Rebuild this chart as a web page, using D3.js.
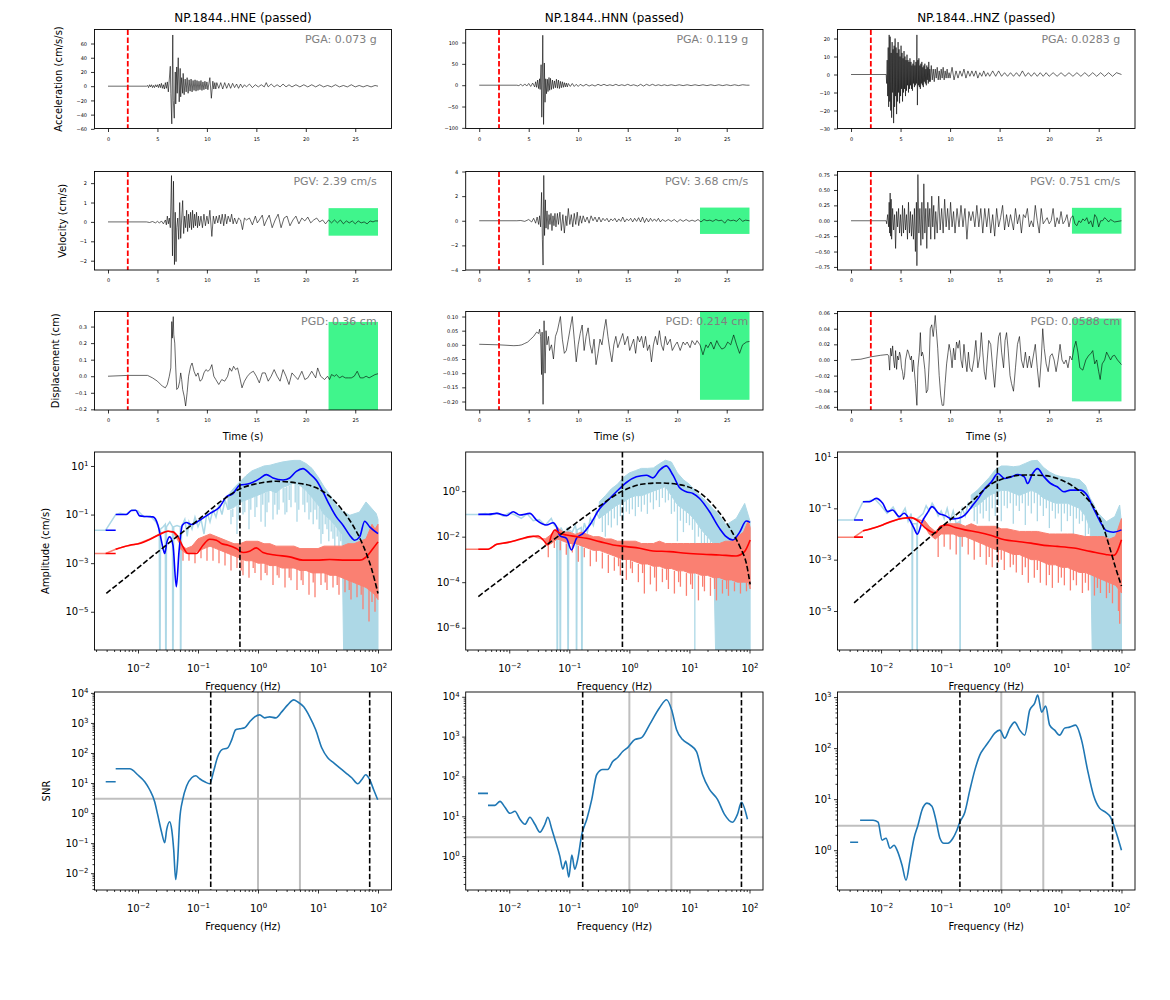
<!DOCTYPE html>
<html><head><meta charset="utf-8">
<script src="https://cdn.jsdelivr.net/npm/d3@7"></script>
<style>body{margin:0;background:#fff}svg{display:block}text{font-family:"DejaVu Sans",sans-serif}</style>
</head><body><svg id="c" width="1170" height="1000"></svg>
<script>
// ---------------- DATA ----------------
const titles = ["NP.1844..HNE (passed)","NP.1844..HNN (passed)","NP.1844..HNZ (passed)"];
const pgaText = ["PGA: 0.073 g","PGA: 0.119 g","PGA: 0.0283 g"];
const pgvText = ["PGV: 2.39 cm/s","PGV: 3.68 cm/s","PGV: 0.751 cm/s"];
const pgdText = ["PGD: 0.36 cm","PGD: 0.214 cm","PGD: 0.0588 cm"];
const pickTime = 2.0;
const noiseWindow = [22.3, 27.3];
const velBoxHalf = [0.71, 1.07, 0.21];
const dispBoxHalf = [0.328, 0.194, 0.053];
const timeTicks = [0,5,10,15,20,25];
const cornerFreq = [0.5, 0.766, 0.86];
const snrBandFreqs = [[0.163,72.7],[0.167,73.5],[0.205,71]];
const snrThreshold = 3;
const snrGrayFreqs = [1,5];

// waveforms [time s, value]
const accHNE = [[0,0],[3.9,0],[4.0,1],[4.1,-2],[4.2,2],[4.3,-1],[4.4,2],[4.5,-2],[4.6,1],[4.7,-2],[4.8,2],[4.9,-1],[5.0,2],[5.1,-2],[5.2,3],[5.3,-2],[5.4,4],[5.5,-3],[5.6,2],[5.7,-4],[5.8,5],[5.9,-3],[6.0,6],[6.1,-8],[6.2,10],[6.3,28],[6.35,-10],[6.45,-53],[6.55,72],[6.6,-20],[6.7,-45],[6.8,20],[6.85,-25],[6.95,27],[7.0,-10],[7.1,40],[7.2,-22],[7.3,25],[7.35,-15],[7.45,12],[7.55,-10],[7.6,18],[7.7,-12],[7.8,10],[7.9,-8],[8.0,12],[8.1,-10],[8.2,9],[8.3,-7],[8.4,10],[8.5,-8],[8.6,8],[8.7,-6],[8.8,9],[8.9,-7],[9.0,8],[9.1,-6],[9.2,7],[9.3,-5],[9.4,8],[9.5,-6],[9.6,6],[9.7,-5],[9.8,7],[9.9,-4],[10.0,6],[10.1,-5],[10.3,12],[10.45,-17],[10.6,7],[10.7,-4],[10.8,5],[10.9,-4],[11.0,5],[11.2,-3],[11.4,5],[11.6,-4],[11.8,5],[12.0,-3],[12.2,4],[12.4,-3],[12.6,4],[12.8,-2],[13.0,3],[13.2,-3],[13.4,3],[13.6,-2],[13.8,2],[14.0,-1],[14.3,3],[14.6,-2],[14.9,2],[15.2,-1],[15.5,2],[15.8,-1],[16.0,5],[16.2,-1],[16.5,3],[16.8,-1],[17.1,2],[17.4,-1],[17.7,3],[18.0,-1],[18.3,2],[18.6,-1],[19.0,2],[19.4,-1],[19.8,2],[20.2,-1],[20.6,2],[21.0,-1],[21.4,2],[21.8,-1],[22.2,1],[22.6,-1],[23.0,2],[23.4,-1],[23.8,1],[24.2,-1],[24.6,2],[25.0,-1],[25.4,1],[25.8,-1],[26.2,1],[26.6,-1],[27.0,1],[27.3,0]];
const velHNE = [[0,0],[3.9,0],[4.2,-0.03],[4.5,0.02],[4.8,-0.05],[5.0,0.03],[5.2,-0.06],[5.4,0.05],[5.6,-0.1],[5.8,0.1],[5.9,-0.15],[6.0,0.3],[6.1,-0.1],[6.2,0.2],[6.3,-0.3],[6.42,2.39],[6.52,-1.75],[6.62,2.1],[6.72,-2.2],[6.8,0.5],[6.88,-2.05],[6.95,-0.3],[7.05,0.2],[7.15,-0.9],[7.25,1.0],[7.35,-0.85],[7.45,0.2],[7.55,1.1],[7.65,-0.6],[7.75,0.3],[7.85,-0.3],[7.95,0.6],[8.05,-0.5],[8.15,0.4],[8.25,-0.3],[8.35,0.5],[8.45,-0.4],[8.55,0.6],[8.65,-0.3],[8.75,0.4],[8.85,-0.2],[8.95,0.5],[9.05,-0.3],[9.15,0.3],[9.25,-0.2],[9.4,0.3],[9.55,-0.3],[9.7,0.4],[9.85,-0.2],[10.0,0.3],[10.15,-0.1],[10.3,0.6],[10.5,-0.75],[10.65,0.3],[10.8,-0.1],[10.95,0.3],[11.1,-0.05],[11.25,0.35],[11.4,-0.1],[11.55,0.4],[11.7,-0.2],[11.85,0.4],[12.0,-0.1],[12.15,0.3],[12.35,0.0],[12.5,0.4],[12.65,-0.1],[12.8,0.2],[13.0,-0.1],[13.2,0.2],[13.4,0.1],[13.6,-0.4],[13.8,0.2],[14.0,0.1],[14.3,0.2],[14.6,-0.15],[14.9,0.3],[15.1,-0.05],[15.3,0.1],[15.6,0.35],[15.8,-0.2],[16.0,0.05],[16.3,0.35],[16.6,-0.3],[16.9,0.1],[17.2,0.4],[17.5,-0.3],[17.8,0.2],[18.1,0.3],[18.4,-0.2],[18.7,0.1],[19.0,0.3],[19.3,-0.1],[19.6,0.2],[19.9,0.05],[20.2,0.25],[20.5,-0.05],[20.8,0.1],[21.1,0.2],[21.4,0.0],[21.7,0.1],[22.0,-0.1],[22.3,0.1],[22.6,-0.05],[22.9,0.1],[23.2,-0.05],[23.5,0.1],[23.8,-0.1],[24.1,0.05],[24.4,-0.05],[24.7,0.05],[25.0,-0.1],[25.3,0.05],[25.6,-0.05],[25.9,0.0],[26.2,-0.1],[26.5,0.05],[26.8,0.0],[27.0,0.05],[27.3,0.05]];
const dispHNE = [[0,0],[2,0.005],[4,0.005],[4.5,-0.01],[5.0,-0.03],[5.5,-0.06],[5.8,-0.07],[6.0,-0.05],[6.2,0.0],[6.35,0.05],[6.45,0.33],[6.5,0.23],[6.6,0.36],[6.65,0.25],[6.75,0.2],[6.85,0.05],[6.95,-0.08],[7.1,-0.07],[7.25,-0.03],[7.35,0.02],[7.45,-0.02],[7.55,-0.08],[7.7,-0.12],[7.85,-0.18],[8.0,-0.1],[8.15,0.0],[8.35,0.06],[8.5,0.08],[8.7,0.03],[8.9,0.0],[9.1,0.02],[9.3,-0.03],[9.5,-0.02],[9.7,0.02],[9.9,0.04],[10.1,0.03],[10.3,0.04],[10.5,0.07],[10.7,0.0],[10.9,-0.02],[11.2,-0.05],[11.5,-0.02],[11.8,-0.03],[12.1,0.0],[12.3,0.05],[12.5,0.03],[12.7,0.06],[12.9,0.04],[13.1,0.05],[13.3,0.0],[13.55,-0.07],[13.8,-0.03],[14.1,0.0],[14.4,0.02],[14.7,0.03],[15.0,0.0],[15.3,-0.04],[15.6,0.02],[15.9,0.02],[16.2,-0.03],[16.5,0.0],[16.8,0.04],[17.1,0.0],[17.4,-0.03],[17.7,0.04],[18.0,0.0],[18.3,-0.05],[18.6,0.02],[18.9,0.0],[19.2,-0.02],[19.6,0.03],[19.9,-0.02],[20.2,-0.01],[20.6,0.03],[21.0,-0.01],[21.2,0.05],[21.5,0.0],[21.9,-0.02],[22.2,0.0],[22.4,-0.02],[22.6,0.01],[22.9,0.0],[23.1,0.01],[23.4,-0.01],[23.7,0.0],[24.0,-0.01],[24.3,-0.01],[24.6,-0.01],[24.9,0.0],[25.2,0.03],[25.5,-0.01],[25.8,-0.01],[26.1,0.0],[26.4,-0.01],[26.7,0.0],[27.0,0.01],[27.3,0.015]];
const accHNN = [[0,0],[3.8,0],[4.0,-1],[4.2,2],[4.4,-2],[4.6,3],[4.8,-2],[5.0,4],[5.2,-3],[5.4,5],[5.6,-4],[5.7,8],[5.8,-5],[5.9,12],[6.0,-8],[6.1,15],[6.15,-10],[6.25,48],[6.32,-75],[6.42,117],[6.5,-92],[6.58,52],[6.65,-40],[6.72,15],[6.8,-20],[6.88,14],[6.95,-15],[7.05,18],[7.12,-12],[7.2,16],[7.3,-10],[7.4,12],[7.5,-8],[7.6,10],[7.7,-6],[7.8,14],[7.9,-7],[8.0,12],[8.1,-8],[8.2,9],[8.3,-6],[8.4,8],[8.5,-5],[8.6,6],[8.7,-4],[8.8,5],[8.9,-4],[9.0,4],[9.2,-3],[9.4,4],[9.6,-3],[9.8,2],[10.0,-3],[10.2,2],[10.5,-2],[10.8,2],[11.1,-2],[11.4,1],[11.7,-2],[12.0,2],[12.3,-1],[12.6,2],[12.9,-1],[13.2,1],[13.5,-1],[13.8,2],[14.1,-1],[14.4,1],[14.7,-1],[15.0,2],[15.3,-1],[15.6,1],[16.0,-2],[16.3,2],[16.6,-2],[16.9,2],[17.2,-1],[17.5,2],[17.8,-1],[18.1,1],[18.4,-1],[18.7,1],[19.0,-1],[19.4,1],[19.8,-1],[20.2,1],[20.6,-1],[21.0,1],[21.4,-1],[21.8,1],[22.2,-1],[22.6,1],[23.0,-1],[23.4,1],[23.8,-1],[24.2,1],[24.6,-1],[25.0,1],[25.4,-1],[25.8,1],[26.2,-1],[26.6,1],[27.0,0],[27.3,0]];
const velHNN = [[0,0],[3.8,0],[4.2,0.02],[4.6,-0.05],[5.0,0.1],[5.3,-0.1],[5.5,0.2],[5.7,-0.2],[5.85,0.3],[6.0,-0.3],[6.1,0.4],[6.2,-0.5],[6.3,2.3],[6.38,-1.5],[6.45,-3.6],[6.52,3.68],[6.6,-1.2],[6.68,1.7],[6.75,-0.6],[6.85,0.8],[6.95,-0.7],[7.05,0.5],[7.15,-0.3],[7.25,0.6],[7.35,-0.8],[7.45,0.4],[7.55,-0.4],[7.65,0.6],[7.75,-0.5],[7.9,0.6],[8.0,-0.3],[8.15,0.7],[8.3,-0.8],[8.45,0.5],[8.6,-1.0],[8.75,0.4],[8.85,-0.4],[9.0,1.0],[9.15,-0.3],[9.3,0.5],[9.45,-0.5],[9.6,0.6],[9.75,-0.3],[9.9,0.7],[10.05,-0.4],[10.2,0.4],[10.35,-0.2],[10.5,0.4],[10.7,-0.1],[10.9,0.3],[11.1,-0.2],[11.3,0.4],[11.5,0.0],[11.7,0.3],[11.9,-0.1],[12.1,0.3],[12.3,-0.1],[12.5,0.2],[12.7,0.0],[12.9,0.2],[13.1,-0.1],[13.3,0.15],[13.5,0.0],[13.7,0.2],[13.9,-0.1],[14.1,0.15],[14.3,-0.05],[14.5,0.3],[14.7,-0.1],[14.9,0.15],[15.1,0.0],[15.3,0.2],[15.5,-0.1],[15.7,0.2],[15.9,-0.05],[16.1,0.25],[16.3,-0.1],[16.5,0.3],[16.7,-0.15],[16.9,0.2],[17.1,-0.1],[17.3,0.2],[17.5,-0.05],[17.7,0.15],[17.9,-0.05],[18.1,0.2],[18.3,-0.1],[18.5,0.1],[18.8,-0.05],[19.1,0.1],[19.4,-0.05],[19.7,0.1],[20.0,-0.1],[20.3,0.1],[20.6,-0.05],[20.9,0.1],[21.2,-0.05],[21.5,0.05],[21.8,-0.05],[22.1,0.1],[22.4,-0.1],[22.7,0.1],[23.0,0.0],[23.3,0.05],[23.6,-0.05],[23.9,0.1],[24.2,0.0],[24.5,0.05],[24.8,-0.2],[25.1,0.1],[25.4,0.0],[25.7,0.05],[26.0,-0.05],[26.3,0.2],[26.6,-0.05],[26.9,0.05],[27.3,0.0]];
const dispHNN = [[0,0.002],[2,0.0],[3.5,-0.003],[4.0,-0.002],[4.3,0.0],[4.6,0.005],[4.9,0.01],[5.2,0.02],[5.5,0.03],[5.8,0.045],[6.0,0.04],[6.1,0.055],[6.2,0.03],[6.3,-0.105],[6.35,0.045],[6.45,-0.21],[6.55,0.085],[6.65,-0.1],[6.75,0.05],[6.85,0.0],[7.0,0.03],[7.1,-0.02],[7.3,0.0],[7.5,-0.05],[7.7,0.03],[7.9,0.05],[8.2,0.1],[8.4,0.02],[8.6,-0.03],[8.8,-0.02],[9.0,0.02],[9.2,0.06],[9.4,0.1],[9.6,0.02],[9.8,-0.06],[10.0,0.0],[10.2,0.04],[10.4,0.07],[10.6,-0.02],[10.8,0.03],[11.0,0.06],[11.2,0.0],[11.4,-0.03],[11.6,0.02],[11.8,-0.07],[12.0,-0.03],[12.2,0.02],[12.4,0.0],[12.6,0.05],[12.8,0.09],[13.0,0.03],[13.2,-0.02],[13.4,-0.06],[13.6,0.0],[13.8,0.03],[14.0,-0.01],[14.3,0.02],[14.5,0.04],[14.7,0.0],[15.0,0.03],[15.2,-0.02],[15.4,0.0],[15.6,0.02],[15.8,-0.03],[16.0,0.03],[16.2,0.01],[16.4,0.03],[16.6,-0.01],[16.8,0.03],[17.0,-0.02],[17.2,0.0],[17.4,-0.06],[17.6,0.0],[17.8,0.03],[18.0,0.0],[18.2,0.05],[18.4,0.0],[18.6,-0.02],[18.8,0.03],[19.0,0.0],[19.3,0.02],[19.5,-0.02],[19.8,0.0],[20.0,0.01],[20.3,-0.02],[20.6,0.01],[20.8,0.0],[21.0,0.01],[21.3,-0.01],[21.5,0.015],[21.8,0.0],[22.0,0.015],[22.3,0.0],[22.6,-0.035],[22.9,0.0],[23.1,-0.01],[23.4,0.01],[23.7,-0.015],[24.0,0.015],[24.2,0.0],[24.5,-0.015],[24.8,-0.01],[25.1,0.01],[25.4,0.0],[25.7,0.035],[26.0,0.0],[26.3,-0.03],[26.6,0.0],[27.0,0.01],[27.3,0.012]];
const accHNZ = [[0,0],[3.55,0],[3.6,-5],[3.65,8],[3.7,-12],[3.75,15],[3.8,-18],[3.85,22],[3.9,-15],[3.95,21],[4.0,-20],[4.05,12],[4.1,-24],[4.15,18],[4.2,-10],[4.25,14],[4.3,-27],[4.35,16],[4.4,-18],[4.45,20],[4.5,-12],[4.55,15],[4.6,-22],[4.65,12],[4.7,-15],[4.75,18],[4.8,-10],[4.85,14],[4.9,-16],[4.95,10],[5.0,-12],[5.05,16],[5.1,-8],[5.15,12],[5.2,-15],[5.25,9],[5.3,-10],[5.35,13],[5.4,-8],[5.45,10],[5.5,-12],[5.55,8],[5.6,-9],[5.65,11],[5.7,-6],[5.75,8],[5.8,-10],[5.85,7],[5.9,-8],[5.95,9],[6.0,-6],[6.05,7],[6.1,-8],[6.15,5],[6.2,-9],[6.25,6],[6.3,-5],[6.35,8],[6.4,-7],[6.45,5],[6.5,-6],[6.55,7],[6.6,-5],[6.65,22],[6.7,-17],[6.75,8],[6.8,-6],[6.85,9],[6.9,-7],[6.95,5],[7.0,-8],[7.05,6],[7.1,-5],[7.15,7],[7.2,-6],[7.25,4],[7.3,-7],[7.35,5],[7.4,-4],[7.45,6],[7.5,-5],[7.55,3],[7.6,-6],[7.65,5],[7.7,-3],[7.75,4],[7.8,-5],[7.85,7],[7.9,-4],[7.95,3],[8.0,-4],[8.1,5],[8.2,-3],[8.3,3],[8.4,-4],[8.5,3],[8.6,-2],[8.7,4],[8.8,-3],[8.9,2],[9.0,-3],[9.1,3],[9.2,-2],[9.3,4],[9.4,-3],[9.5,2],[9.6,-2],[9.7,3],[9.8,-2],[9.9,1],[10.0,-2],[10.2,4],[10.4,-3],[10.6,2],[10.8,-2],[11.0,2],[11.2,-1],[11.4,3],[11.6,-2],[11.8,2],[12.0,-1],[12.2,2],[12.4,-1],[12.6,2],[12.8,-2],[13.0,1],[13.2,-1],[13.4,2],[13.6,-1],[13.8,1],[14.0,-1],[14.3,2],[14.6,-1],[14.9,2],[15.2,-1],[15.5,1],[15.8,-1],[16.1,1],[16.4,-1],[16.7,1],[17.0,-1],[17.3,2],[17.6,-1],[17.9,1],[18.2,-1],[18.5,1],[18.8,-1],[19.1,1],[19.4,-1],[19.7,1],[20.0,-1],[20.4,1],[20.8,-1],[21.2,1],[21.6,-1],[22.0,1],[22.4,-1],[22.8,1],[23.2,-1],[23.6,1],[24.0,-1],[24.4,1],[24.8,-1],[25.2,1],[25.6,-1],[26.0,1],[26.4,-1],[26.8,1],[27.3,0]];
const velHNZ = [[0,0],[3.55,0],[3.6,-0.05],[3.7,0.1],[3.8,-0.1],[3.85,0.3],[3.9,-0.2],[3.95,0.45],[4.0,-0.25],[4.05,0.35],[4.1,-0.3],[4.2,0.2],[4.3,-0.15],[4.4,0.1],[4.5,-0.45],[4.6,0.15],[4.7,-0.1],[4.8,0.2],[4.9,-0.2],[5.0,0.1],[5.1,-0.25],[5.2,0.25],[5.3,-0.2],[5.4,0.2],[5.5,-0.15],[5.6,0.1],[5.7,-0.3],[5.8,0.3],[5.9,-0.2],[6.0,0.15],[6.1,-0.25],[6.2,0.1],[6.3,-0.3],[6.4,0.2],[6.5,-0.5],[6.6,0.3],[6.65,-0.73],[6.75,0.75],[6.85,-0.2],[6.95,0.2],[7.05,-0.4],[7.15,0.3],[7.25,-0.3],[7.35,0.6],[7.45,-0.2],[7.55,0.2],[7.65,-0.45],[7.75,0.3],[7.85,-0.1],[7.95,0.2],[8.05,-0.3],[8.15,0.4],[8.25,-0.1],[8.35,0.25],[8.45,-0.3],[8.55,0.15],[8.7,-0.2],[8.85,0.4],[9.0,-0.15],[9.15,0.2],[9.3,-0.2],[9.45,0.35],[9.6,-0.1],[9.75,0.2],[9.9,-0.15],[10.05,0.3],[10.2,-0.1],[10.35,0.15],[10.5,-0.2],[10.7,0.2],[10.9,-0.1],[11.1,0.25],[11.3,-0.1],[11.5,0.2],[11.7,-0.3],[11.9,0.15],[12.1,0.0],[12.3,0.15],[12.5,-0.1],[12.7,0.25],[12.9,-0.1],[13.1,0.2],[13.3,-0.2],[13.5,0.2],[13.7,-0.1],[13.9,0.2],[14.1,-0.2],[14.3,0.1],[14.5,-0.25],[14.7,0.2],[14.9,-0.1],[15.1,0.05],[15.3,0.25],[15.5,-0.15],[15.7,0.1],[15.9,-0.1],[16.1,0.1],[16.4,-0.15],[16.6,0.2],[16.8,-0.05],[17.0,0.1],[17.2,-0.2],[17.4,0.1],[17.6,0.05],[17.8,0.2],[18.0,-0.1],[18.2,0.0],[18.4,-0.1],[18.6,0.25],[18.8,0.0],[19.0,-0.2],[19.2,0.2],[19.4,-0.05],[19.6,0.0],[19.8,0.05],[20.0,-0.05],[20.2,0.0],[20.4,0.2],[20.6,-0.1],[20.8,0.05],[21.0,-0.05],[21.2,0.15],[21.4,-0.05],[21.6,0.0],[21.8,0.1],[22.0,-0.1],[22.2,0.05],[22.4,0.08],[22.6,-0.05],[22.8,-0.08],[23.0,0.0],[23.2,-0.03],[23.4,0.03],[23.6,0.0],[23.8,0.05],[24.0,-0.05],[24.2,0.0],[24.4,-0.1],[24.6,0.1],[24.8,0.05],[25.0,-0.1],[25.2,0.0],[25.4,0.0],[25.6,0.05],[25.8,0.02],[26.0,-0.02],[26.2,0.02],[26.4,0.0],[26.6,-0.02],[27.3,0.0]];
const dispHNZ = [[0,0.0],[1,0.001],[2,0.004],[3,0.006],[3.7,0.007],[3.8,0.005],[3.9,-0.013],[4.0,0.015],[4.1,0.005],[4.2,0.018],[4.3,0.0],[4.4,-0.01],[4.5,0.012],[4.6,-0.012],[4.7,0.005],[4.8,0.0],[4.9,0.01],[5.0,0.005],[5.1,-0.01],[5.2,-0.015],[5.3,-0.025],[5.4,-0.02],[5.5,0.0],[5.7,0.013],[5.8,0.01],[6.0,0.0],[6.1,0.005],[6.2,-0.015],[6.3,0.0],[6.5,-0.03],[6.65,-0.058],[6.75,-0.01],[6.9,0.01],[7.0,0.035],[7.1,0.005],[7.2,0.01],[7.3,0.005],[7.45,-0.012],[7.6,-0.042],[7.75,-0.038],[7.9,0.0],[8.0,0.04],[8.15,0.045],[8.3,0.03],[8.5,0.057],[8.6,0.04],[8.75,0.015],[8.9,-0.02],[9.05,-0.045],[9.2,-0.058],[9.35,-0.058],[9.5,-0.03],[9.65,-0.005],[9.8,0.01],[9.9,0.02],[10.05,0.01],[10.2,-0.01],[10.35,0.015],[10.5,0.0],[10.65,0.023],[10.8,0.015],[10.95,0.025],[11.1,0.0],[11.25,-0.01],[11.4,0.02],[11.55,0.0],[11.7,-0.015],[11.85,0.01],[12.0,-0.01],[12.2,-0.015],[12.4,0.0],[12.6,0.025],[12.8,-0.01],[13.0,0.005],[13.15,0.035],[13.3,0.01],[13.45,-0.015],[13.6,-0.025],[13.75,0.0],[13.9,0.025],[14.1,0.02],[14.3,-0.01],[14.5,-0.035],[14.7,0.0],[14.9,0.03],[15.05,0.035],[15.2,0.01],[15.4,-0.01],[15.55,0.025],[15.7,0.035],[15.85,0.015],[16.05,-0.02],[16.2,-0.03],[16.4,-0.04],[16.6,-0.01],[16.8,0.02],[17.0,0.03],[17.2,0.0],[17.4,-0.01],[17.6,0.01],[17.8,-0.01],[18.0,0.005],[18.2,-0.01],[18.4,0.005],[18.6,0.02],[18.8,-0.01],[19.0,-0.035],[19.2,0.0],[19.35,0.04],[19.5,0.015],[19.7,-0.005],[19.9,-0.015],[20.1,0.005],[20.3,0.008],[20.5,0.0],[20.7,-0.015],[20.9,0.0],[21.1,0.02],[21.3,0.0],[21.5,-0.005],[21.7,0.0],[21.9,-0.01],[22.1,0.005],[22.3,0.0],[22.5,0.015],[22.7,0.024],[22.9,0.01],[23.1,-0.01],[23.4,-0.013],[23.7,0.0],[24.0,0.006],[24.2,0.008],[24.4,0.012],[24.6,-0.005],[24.8,0.0],[25.0,-0.015],[25.15,-0.025],[25.35,-0.005],[25.6,0.0],[25.8,0.01],[26.0,0.005],[26.2,0.0],[26.4,0.005],[26.6,0.006],[26.9,0.0],[27.3,-0.006]];

// spectra: [log10 f, log10 amplitude]; raw bands: [log10 f, log10 upper, log10 lower]; spikes: [log10 f, log10 top, log10 bottom]
const hneSigSmoothHead = [[-2.539,-1.644],[-2.372,-1.644]];
const hneSigSmooth = [[-2.372,-1.0],[-2.194,-1.0],[-2.111,-0.836],[-2.039,-0.822],[-1.972,-1.055],[-1.861,-1.082],[-1.75,-1.096],[-1.667,-1.438],[-1.594,-2.26],[-1.556,-2.603],[-1.517,-2.123],[-1.472,-1.918],[-1.417,-2.26],[-1.361,-3.97],[-1.317,-2.534],[-1.261,-1.438],[-1.194,-1.329],[-1.111,-1.411],[-0.972,-1.233],[-0.806,-0.959],[-0.639,-0.685],[-0.528,-0.274],[-0.417,-0.137],[-0.306,0.205],[-0.139,0.274],[0.028,0.479],[0.139,0.644],[0.25,0.507],[0.417,0.425],[0.528,0.507],[0.639,0.781],[0.75,0.89],[0.861,0.685],[0.972,0.411],[1.083,-0.068],[1.194,-0.616],[1.306,-1.096],[1.417,-1.438],[1.528,-1.849],[1.611,-2.055],[1.694,-1.918],[1.778,-1.274],[1.861,-1.507],[2.0,-1.781]];
const hneNoiseSmoothHead = [[-2.539,-2.603],[-2.372,-2.603]];
const hneNoiseSmooth = [[-2.372,-2.425],[-2.139,-2.26],[-1.972,-2.192],[-1.806,-2.027],[-1.639,-1.822],[-1.5,-1.685],[-1.417,-1.712],[-1.333,-1.918],[-1.25,-2.329],[-1.167,-2.603],[-1.028,-2.603],[-0.917,-2.26],[-0.806,-2.014],[-0.694,-2.055],[-0.611,-2.192],[-0.5,-2.26],[-0.361,-2.397],[-0.25,-2.562],[-0.139,-2.507],[-0.028,-2.37],[0.083,-2.562],[0.306,-2.671],[0.528,-2.74],[0.75,-2.877],[0.972,-2.877],[1.194,-2.849],[1.472,-2.877],[1.694,-2.877],[1.806,-2.74],[1.917,-2.397],[2.0,-2.123]];
const hneBrune = [[-2.528,-4.247],[-1.5,-2.2],[-1.0,-1.22],[-0.6,-0.42],[-0.306,0.05],[0.0,0.28],[0.306,0.37],[0.639,0.3],[0.972,0.1],[1.194,-0.25],[1.417,-0.85],[1.583,-1.45],[1.75,-2.26],[1.889,-3.2],[2.0,-4.25]];
const hneSigRawLine = [[-2.8,-1.644],[-2.539,-1.644],[-2.372,-1.0],[-2.3,-0.95],[-2.2,-1.0],[-2.1,-0.8],[-2.0,-0.85],[-1.9,-1.1],[-1.8,-1.05],[-1.7,-1.3],[-1.645,-1.6],[-1.635,-9],[-1.625,-1.6],[-1.58,-1.5],[-1.545,-1.4],[-1.535,-9],[-1.525,-1.5],[-1.47,-1.3],[-1.425,-1.5],[-1.42,-9],[-1.405,-1.5],[-1.35,-1.45],[-1.295,-1.5],[-1.29,-9],[-1.275,-1.5],[-1.22,-1.2],[-1.18,-1.9],[-1.15,-1.3],[-1.1,-1.6],[-1.05,-1.1],[-1.0,-1.5],[-0.95,-1.2],[-0.9,-1.8],[-0.85,-0.9],[-0.8,-1.3],[-0.75,-0.8],[-0.7,-1.1],[-0.65,-0.6],[-0.6,-1.0],[-0.55,-0.4],[-0.5,-0.8]];
const hneSigRawBand = [[-0.5,-0.2,-0.8],[-0.4,0.1,-0.7],[-0.3,0.35,-0.5],[-0.2,0.6,-0.4],[-0.1,0.8,-0.3],[0.0,0.9,-0.2],[0.1,1.0,-0.1],[0.2,1.03,0.0],[0.3,1.1,-0.1],[0.4,1.16,0.1],[0.5,1.2,0.2],[0.6,1.23,0.3],[0.7,1.23,0.2],[0.8,1.1,0.0],[0.9,0.9,-0.3],[1.0,0.55,-0.6],[1.1,0.15,-1.0],[1.2,-0.2,-1.2],[1.3,-0.6,-1.5],[1.4,-0.85,-1.8],[1.44,-0.9,-9],[1.53,-1.03,-9],[1.69,-0.9,-9],[1.8,-0.48,-9],[1.97,-0.96,-9],[2.0,-1.2,-9]];
const hneSigRawSpikes = [[-0.45,-0.8,-1.4],[-0.42,-0.75,-1.1],[-0.35,-0.6,-1.8],[-0.32,-0.55,-1.2],[-0.25,-0.45,-1.0],[-0.22,-0.4,-0.9],[-0.15,-0.35,-1.6],[-0.12,-0.3,-0.8],[-0.05,-0.25,-1.1],[-0.02,-0.2,-0.7],[0.05,-0.15,-1.3],[0.08,-0.1,-0.6],[0.12,-0.1,-1.5],[0.15,-0.05,-0.9],[0.18,0.0,-0.5],[0.25,0.0,-1.2],[0.28,-0.05,-0.6],[0.32,0.0,-1.0],[0.35,0.05,-0.8],[0.42,0.1,-0.5],[0.45,0.1,-1.0],[0.48,0.15,-0.9],[0.52,0.2,-0.4],[0.55,0.25,-0.7],[0.62,0.3,-0.5],[0.65,0.25,-1.3],[0.68,0.2,-0.8],[0.75,0.1,-0.6],[0.78,0.05,-0.9],[0.82,0.0,-0.5],[0.85,-0.1,-1.2],[0.88,-0.2,-0.9],[0.92,-0.35,-1.4],[0.95,-0.4,-0.8],[0.98,-0.5,-1.2],[1.02,-0.7,-1.6],[1.05,-0.8,-2.2],[1.08,-0.9,-1.8],[1.12,-1.05,-1.4],[1.15,-1.1,-1.6],[1.18,-1.15,-2.1],[1.22,-1.25,-1.7],[1.25,-1.35,-2.0],[1.28,-1.45,-2.5],[1.32,-1.55,-1.9],[1.35,-1.6,-2.3],[1.38,-1.7,-2.1]];
const hneNoiseRawLine = [[-2.8,-2.603],[-2.539,-2.603],[-2.372,-2.425],[-2.2,-2.3],[-2.0,-2.2],[-1.8,-2.0],[-1.6,-1.75],[-1.5,-1.68],[-1.4,-1.75],[-1.3,-2.2]];
const hneNoiseRawBand = [[-1.3,-2.2,-2.4],[-1.2,-2.4,-2.6],[-1.1,-2.3,-2.6],[-1.0,-2.0,-2.5],[-0.9,-1.9,-2.4],[-0.8,-1.8,-2.3],[-0.7,-1.9,-2.4],[-0.6,-2.0,-2.5],[-0.5,-2.1,-2.6],[-0.4,-2.2,-2.7],[-0.3,-2.2,-2.8],[-0.2,-2.1,-2.9],[-0.1,-2.1,-2.9],[0.0,-2.1,-3.0],[0.1,-2.2,-3.0],[0.2,-2.2,-3.1],[0.3,-2.3,-3.1],[0.4,-2.3,-3.2],[0.5,-2.3,-3.2],[0.6,-2.3,-3.2],[0.7,-2.4,-3.3],[0.8,-2.4,-3.3],[0.9,-2.4,-3.4],[1.0,-2.4,-3.4],[1.1,-2.3,-3.4],[1.2,-2.3,-3.5],[1.3,-2.3,-3.5],[1.4,-2.3,-3.6],[1.5,-2.2,-3.7],[1.6,-2.2,-3.8],[1.7,-2.1,-3.9],[1.8,-2.0,-4.0],[1.9,-1.4,-4.2],[1.95,-1.6,-4.3],[2.0,-1.4,-4.5]];
const hneNoiseRawSpikes = [[-1.25,-2.5,-2.9],[-1.15,-2.5,-2.9],[-1.05,-2.4,-3.0],[-0.95,-2.4,-2.8],[-0.85,-2.3,-2.9],[-0.75,-2.3,-2.9],[-0.65,-2.4,-3.0],[-0.55,-2.5,-3.1],[-0.45,-2.6,-3.3],[-0.35,-2.7,-3.2],[-0.28,-2.8,-3.3],[-0.25,-2.8,-3.5],[-0.15,-2.9,-3.6],[-0.08,-2.9,-3.2],[-0.05,-2.9,-3.4],[0.05,-3.0,-3.7],[0.12,-3.0,-3.4],[0.15,-3.0,-3.5],[0.25,-3.1,-3.9],[0.32,-3.1,-3.5],[0.35,-3.1,-3.6],[0.45,-3.2,-4.0],[0.52,-3.2,-3.6],[0.55,-3.2,-3.7],[0.65,-3.2,-4.1],[0.72,-3.3,-3.7],[0.75,-3.3,-3.9],[0.85,-3.3,-4.3],[0.92,-3.4,-3.8],[0.95,-3.4,-4.4],[1.05,-3.4,-3.9],[1.12,-3.4,-3.8],[1.15,-3.4,-4.1],[1.25,-3.5,-4.0],[1.32,-3.5,-3.9],[1.35,-3.5,-4.3],[1.45,-3.6,-4.2],[1.52,-3.7,-4.1],[1.55,-3.7,-4.5],[1.65,-3.8,-4.4],[1.72,-3.9,-4.3],[1.75,-3.9,-4.9],[1.85,-4.0,-5.4],[1.9,-4.1,-4.6],[1.95,-4.2,-5.0]];

const hnnSigSmoothHead = [];
const hnnSigSmooth = [[-2.515,-1.022],[-2.349,-1.022],[-2.211,-0.978],[-2.044,-1.08],[-1.934,-0.905],[-1.823,-1.051],[-1.657,-0.978],[-1.546,-1.27],[-1.38,-1.489],[-1.269,-1.387],[-1.213,-1.562],[-1.158,-1.956],[-1.047,-2.073],[-0.964,-2.584],[-0.881,-2.073],[-0.77,-1.854],[-0.659,-1.489],[-0.493,-0.759],[-0.327,-0.321],[-0.161,0.117],[-0.05,0.38],[0.116,0.628],[0.283,0.701],[0.393,0.584],[0.504,0.92],[0.615,1.11],[0.726,0.701],[0.837,0.146],[0.947,-0.029],[1.058,-0.102],[1.169,-0.321],[1.335,-0.905],[1.501,-1.635],[1.612,-2.0],[1.723,-2.146],[1.834,-1.81],[1.945,-1.314],[2.011,-1.372]];
const hnnNoiseSmoothHead = [];
const hnnNoiseSmooth = [[-2.515,-2.555],[-2.349,-2.555],[-2.211,-2.336],[-2.044,-2.263],[-1.823,-2.117],[-1.657,-2.0],[-1.518,-1.971],[-1.435,-2.146],[-1.352,-2.365],[-1.296,-1.927],[-1.241,-1.708],[-1.158,-1.854],[-1.047,-1.927],[-0.881,-2.0],[-0.715,-2.073],[-0.493,-2.219],[-0.271,-2.365],[-0.05,-2.438],[0.172,-2.511],[0.393,-2.628],[0.67,-2.657],[0.947,-2.73],[1.224,-2.774],[1.501,-2.803],[1.778,-2.847],[1.917,-2.657],[2.011,-2.146]];
const hnnBrune = [[-2.515,-4.63],[-1.5,-2.6],[-1.0,-1.62],[-0.5,-0.66],[-0.12,0.0],[0.2,0.3],[0.5,0.36],[0.8,0.3],[1.1,0.05],[1.3,-0.35],[1.5,-0.95],[1.7,-1.75],[1.85,-2.5],[1.95,-3.2],[2.011,-4.1]];
const hnnSigRawLine = [[-2.8,-1.022],[-2.515,-1.022],[-2.4,-0.98],[-2.3,-1.05],[-2.2,-0.95],[-2.1,-1.1],[-2.0,-0.95],[-1.9,-1.05],[-1.8,-1.2],[-1.7,-1.0],[-1.6,-1.3],[-1.5,-1.25],[-1.4,-1.5],[-1.3,-1.2],[-1.25,-1.5],[-1.21,-1.6],[-1.2,-9],[-1.19,-1.6],[-1.16,-1.8],[-1.15,-9],[-1.14,-1.6],[-1.08,-1.9],[-1.03,-1.6],[-1.02,-9],[-1.01,-1.7],[-0.95,-1.8],[-0.9,-1.5],[-0.885,-1.7],[-0.88,-9],[-0.87,-1.7],[-0.8,-1.6],[-0.79,-9],[-0.78,-1.9],[-0.75,-1.4],[-0.7,-1.8],[-0.65,-1.2],[-0.6,-1.5],[-0.55,-0.9],[-0.5,-1.2]];
const hnnSigRawBand = [[-0.5,-0.47,-1.2],[-0.4,-0.2,-1.0],[-0.3,0.1,-0.8],[-0.2,0.3,-0.6],[-0.1,0.6,-0.5],[0.0,0.8,-0.3],[0.1,0.9,-0.2],[0.2,1.0,-0.2],[0.3,1.0,-0.1],[0.4,1.02,0.0],[0.5,1.2,0.1],[0.6,1.36,0.2],[0.7,1.28,-0.2],[0.8,0.8,-0.6],[0.9,0.5,-0.8],[1.0,0.3,-1.0],[1.1,0.0,-1.3],[1.2,-0.25,-1.7],[1.3,-0.5,-2.0],[1.4,-0.8,-2.3],[1.45,-0.9,-9],[1.61,-1.49,-9],[1.78,-1.2,-9],[1.92,-0.54,-9],[2.011,-1.34,-9]];
const hnnSigRawSpikes = [[-0.45,-1.1,-1.8],[-0.4,-1.0,-2.0],[-0.35,-0.9,-1.5],[-0.3,-0.8,-1.6],[-0.25,-0.7,-1.2],[-0.2,-0.6,-1.5],[-0.15,-0.55,-1.1],[-0.1,-0.5,-1.3],[-0.05,-0.4,-0.9],[0.0,-0.3,-1.0],[0.05,-0.25,-0.8],[0.1,-0.2,-1.1],[0.15,-0.2,-0.7],[0.2,-0.2,-0.9],[0.25,-0.15,-0.6],[0.3,-0.1,-1.0],[0.35,-0.05,-0.5],[0.4,0.0,-0.8],[0.45,0.05,-0.4],[0.5,0.1,-0.7],[0.55,0.15,-0.3],[0.6,0.2,-0.5],[0.65,0.1,-0.4],[0.7,-0.2,-1.0],[0.75,-0.4,-0.9],[0.8,-0.6,-2.2],[0.85,-0.7,-1.3],[0.9,-0.8,-1.8],[0.95,-0.9,-1.4],[1.0,-1.0,-1.5],[1.05,-1.15,-1.7],[1.09,-1.25,-9],[1.15,-1.4,-2.0],[1.2,-1.7,-2.4],[1.25,-1.85,-2.3],[1.3,-2.0,-2.6],[1.35,-2.15,-2.5],[1.4,-2.3,-2.6]];
const hnnNoiseRawLine = [[-2.8,-2.555],[-2.515,-2.555],[-2.349,-2.555],[-2.2,-2.33],[-2.0,-2.25],[-1.8,-2.1],[-1.6,-1.98],[-1.45,-2.1],[-1.4,-2.1]];
const hnnNoiseRawBand = [[-1.4,-2.1,-2.4],[-1.3,-1.9,-2.3],[-1.2,-1.6,-2.1],[-1.1,-1.8,-2.2],[-1.0,-1.8,-2.3],[-0.9,-1.9,-2.3],[-0.8,-1.8,-2.4],[-0.7,-1.9,-2.5],[-0.6,-2.0,-2.6],[-0.5,-2.0,-2.6],[-0.4,-2.1,-2.7],[-0.3,-2.1,-2.8],[-0.2,-2.2,-2.9],[-0.1,-2.2,-3.0],[0.0,-2.2,-3.0],[0.1,-2.2,-3.1],[0.2,-2.3,-3.2],[0.3,-2.3,-3.2],[0.4,-2.3,-3.3],[0.5,-2.2,-3.3],[0.6,-2.3,-3.4],[0.7,-2.3,-3.4],[0.8,-2.3,-3.5],[0.9,-2.3,-3.5],[1.0,-2.3,-3.6],[1.1,-2.3,-3.6],[1.2,-2.3,-3.7],[1.3,-2.3,-3.7],[1.4,-2.3,-3.8],[1.5,-2.3,-3.8],[1.6,-2.2,-3.9],[1.7,-2.2,-3.9],[1.8,-2.0,-4.0],[1.9,-1.8,-4.0],[1.98,-1.3,-4.0],[2.011,-1.6,-4.3]];
const hnnNoiseRawSpikes = [[-1.35,-2.4,-2.9],[-1.25,-2.2,-2.5],[-1.15,-2.2,-2.6],[-1.05,-2.3,-2.8],[-0.95,-2.3,-2.7],[-0.85,-2.4,-3.1],[-0.75,-2.5,-2.9],[-0.65,-2.6,-3.3],[-0.55,-2.6,-3.1],[-0.45,-2.7,-3.4],[-0.35,-2.8,-3.6],[-0.25,-2.9,-3.5],[-0.18,-2.9,-3.3],[-0.15,-3.0,-3.7],[-0.05,-3.0,-3.9],[0.02,-3.0,-3.4],[0.05,-3.1,-3.6],[0.15,-3.2,-4.0],[0.22,-3.2,-3.6],[0.25,-3.2,-4.5],[0.35,-3.3,-4.1],[0.42,-3.3,-3.8],[0.45,-3.3,-4.4],[0.55,-3.4,-4.0],[0.62,-3.4,-3.9],[0.65,-3.4,-4.3],[0.75,-3.5,-4.5],[0.82,-3.5,-4.0],[0.85,-3.5,-4.2],[0.95,-3.6,-4.6],[1.02,-3.6,-4.1],[1.05,-3.6,-4.3],[1.15,-3.7,-4.8],[1.22,-3.7,-4.2],[1.25,-3.7,-4.4],[1.35,-3.8,-4.6],[1.42,-3.8,-4.3],[1.45,-3.8,-4.8],[1.55,-3.9,-4.5],[1.62,-3.9,-4.3],[1.65,-3.9,-4.6],[1.75,-4.0,-4.4],[1.85,-4.0,-4.5],[1.95,-4.0,-4.4]];

const hnzSigSmoothHead = [[-2.449,-1.452],[-2.301,-1.452]];
const hnzSigSmooth = [[-2.301,-0.742],[-2.192,-0.742],[-2.082,-0.613],[-1.973,-0.806],[-1.89,-1.129],[-1.808,-1.065],[-1.699,-1.323],[-1.616,-1.194],[-1.534,-1.413],[-1.452,-1.774],[-1.397,-2.006],[-1.315,-1.516],[-1.233,-1.194],[-1.151,-0.935],[-1.041,-1.194],[-0.932,-1.284],[-0.822,-1.413],[-0.712,-1.387],[-0.603,-1.258],[-0.493,-0.935],[-0.384,-0.613],[-0.274,-0.226],[-0.164,0.032],[-0.055,0.355],[0.055,0.161],[0.164,0.226],[0.274,0.316],[0.384,0.226],[0.438,-0.032],[0.521,0.355],[0.603,0.548],[0.712,0.226],[0.822,-0.032],[0.932,-0.161],[1.041,-0.355],[1.151,-0.29],[1.315,-0.29],[1.425,-0.484],[1.534,-1.0],[1.644,-1.516],[1.753,-1.877],[1.863,-1.929],[2.0,-1.839]];
const hnzNoiseSmoothHead = [[-2.449,-2.123],[-2.301,-2.123]];
const hnzNoiseSmooth = [[-2.301,-1.877],[-2.137,-1.774],[-1.973,-1.645],[-1.808,-1.49],[-1.644,-1.387],[-1.507,-1.361],[-1.37,-1.516],[-1.26,-1.774],[-1.178,-1.903],[-1.096,-1.968],[-1.014,-1.71],[-0.904,-1.645],[-0.767,-1.748],[-0.603,-1.839],[-0.384,-1.929],[-0.164,-2.058],[0.055,-2.226],[0.274,-2.29],[0.493,-2.355],[0.712,-2.445],[0.932,-2.484],[1.205,-2.548],[1.479,-2.677],[1.753,-2.806],[1.874,-2.832],[2.0,-2.226]];
const hnzBrune = [[-2.449,-4.68],[-1.5,-2.75],[-1.0,-1.74],[-0.5,-0.75],[-0.164,-0.05],[0.1,0.2],[0.4,0.3],[0.7,0.28],[1.0,0.1],[1.2,-0.15],[1.4,-0.55],[1.55,-1.0],[1.7,-1.75],[1.8,-2.5],[1.9,-3.3],[2.0,-4.03]];
const hnzSigRawLine = [[-2.8,-1.452],[-2.449,-1.452],[-2.301,-0.742],[-2.2,-0.7],[-2.1,-0.65],[-2.0,-0.9],[-1.9,-1.2],[-1.8,-0.95],[-1.7,-1.4],[-1.6,-1.0],[-1.55,-1.5],[-1.5,-1.2],[-1.485,-1.6],[-1.48,-9],[-1.475,-1.6],[-1.405,-1.6],[-1.4,-9],[-1.395,-1.4],[-1.3,-1.2],[-1.25,-0.9],[-1.2,-1.1],[-1.15,-0.8],[-1.1,-1.0],[-1.05,-1.3],[-1.0,-1.1],[-0.95,-1.4],[-0.9,-1.0],[-0.85,-1.5],[-0.8,-1.1],[-0.75,-1.6],[-0.69,-1.5],[-0.685,-9],[-0.68,-1.3],[-0.65,-1.0],[-0.6,-1.3],[-0.55,-0.8],[-0.5,-1.0]];
const hnzSigRawBand = [[-0.5,-0.48,-1.0],[-0.4,-0.3,-0.9],[-0.3,-0.05,-0.7],[-0.2,0.2,-0.5],[-0.1,0.5,-0.4],[0.0,0.65,-0.3],[0.1,0.65,-0.3],[0.2,0.62,-0.4],[0.3,0.65,-0.5],[0.4,0.75,-0.4],[0.5,0.85,-0.3],[0.6,0.87,-0.4],[0.7,0.6,-0.6],[0.8,0.42,-0.7],[0.9,0.3,-0.8],[1.0,0.23,-0.8],[1.1,0.2,-0.8],[1.2,0.16,-0.9],[1.3,0.12,-1.0],[1.4,-0.1,-1.3],[1.48,-0.61,-1.8],[1.53,-0.8,-9],[1.59,-1.13,-9],[1.75,-1.52,-9],[1.89,-1.32,-9],[1.97,-0.87,-9],[2.0,-1.6,-9]];
const hnzSigRawSpikes = [[-0.45,-0.95,-1.5],[-0.4,-0.9,-1.6],[-0.35,-0.8,-1.2],[-0.3,-0.7,-1.4],[-0.25,-0.6,-1.1],[-0.2,-0.5,-1.5],[-0.15,-0.45,-1.0],[-0.1,-0.4,-1.3],[-0.05,-0.35,-0.9],[0.0,-0.3,-1.5],[0.05,-0.3,-0.9],[0.1,-0.3,-1.0],[0.15,-0.35,-0.8],[0.2,-0.4,-1.6],[0.25,-0.45,-0.9],[0.3,-0.5,-1.1],[0.35,-0.45,-0.8],[0.4,-0.4,-1.65],[0.45,-0.35,-0.9],[0.5,-0.3,-1.2],[0.55,-0.35,-0.8],[0.6,-0.4,-1.5],[0.65,-0.5,-0.9],[0.7,-0.6,-1.3],[0.75,-0.65,-1.0],[0.8,-0.7,-1.77],[0.85,-0.75,-1.1],[0.9,-0.8,-1.4],[0.95,-0.8,-1.2],[1.0,-0.8,-1.9],[1.05,-0.8,-1.2],[1.1,-0.8,-1.5],[1.15,-0.85,-1.3],[1.2,-0.9,-2.0],[1.25,-0.95,-1.4],[1.3,-1.0,-1.6],[1.35,-1.1,-1.5],[1.4,-1.3,-2.2],[1.45,-1.5,-2.0]];
const hnzNoiseRawLine = [[-2.8,-2.123],[-2.449,-2.123],[-2.301,-1.877],[-2.1,-1.75],[-1.9,-1.58],[-1.7,-1.42],[-1.5,-1.36],[-1.3,-1.5]];
const hnzNoiseRawBand = [[-1.3,-1.4,-1.6],[-1.2,-1.7,-2.0],[-1.1,-1.9,-2.2],[-1.0,-1.7,-2.0],[-0.9,-1.6,-2.0],[-0.8,-1.6,-2.0],[-0.7,-1.6,-2.1],[-0.6,-1.7,-2.1],[-0.5,-1.6,-2.2],[-0.4,-1.7,-2.3],[-0.3,-1.7,-2.4],[-0.2,-1.7,-2.5],[-0.1,-1.7,-2.6],[0.0,-1.8,-2.6],[0.1,-1.8,-2.7],[0.2,-1.85,-2.8],[0.3,-1.9,-2.8],[0.4,-1.9,-2.9],[0.5,-1.9,-3.0],[0.6,-1.9,-3.0],[0.7,-1.95,-3.1],[0.8,-2.0,-3.2],[0.9,-2.0,-3.2],[1.0,-2.0,-3.3],[1.1,-2.0,-3.3],[1.2,-2.0,-3.4],[1.3,-2.05,-3.5],[1.4,-2.1,-3.5],[1.5,-2.1,-3.6],[1.6,-2.1,-3.7],[1.7,-2.1,-3.8],[1.8,-2.2,-3.9],[1.9,-2.1,-4.0],[1.97,-1.6,-4.2],[2.0,-1.4,-4.3]];
const hnzNoiseRawSpikes = [[-1.05,-2.0,-2.9],[-0.95,-2.0,-2.5],[-0.85,-2.0,-2.6],[-0.75,-2.0,-2.8],[-0.65,-2.1,-2.5],[-0.55,-2.1,-2.8],[-0.45,-2.2,-3.0],[-0.35,-2.3,-2.9],[-0.25,-2.4,-3.2],[-0.2,-2.5,-2.9],[-0.15,-2.5,-3.3],[-0.05,-2.6,-3.1],[0.0,-2.6,-3.0],[0.05,-2.6,-3.4],[0.15,-2.7,-3.3],[0.2,-2.8,-3.2],[0.25,-2.8,-3.5],[0.35,-2.8,-3.6],[0.4,-2.9,-3.3],[0.45,-2.9,-3.9],[0.55,-3.0,-3.7],[0.6,-3.0,-3.4],[0.65,-3.0,-3.9],[0.75,-3.1,-4.0],[0.8,-3.2,-3.6],[0.85,-3.2,-4.1],[0.95,-3.2,-3.9],[1.0,-3.3,-3.7],[1.05,-3.3,-4.0],[1.15,-3.3,-4.2],[1.2,-3.4,-3.8],[1.25,-3.4,-4.0],[1.35,-3.5,-4.3],[1.4,-3.5,-3.9],[1.45,-3.5,-4.2],[1.55,-3.6,-4.4],[1.6,-3.7,-4.1],[1.65,-3.7,-4.3],[1.75,-3.8,-4.5],[1.8,-3.9,-4.3],[1.85,-3.9,-4.7],[1.95,-4.0,-5.0],[1.97,-4.2,-5.5]];

// SNR [log10 f, log10 SNR]
const hneSnrHead = [[-2.538,1.043],[-2.372,1.043]];
const hneSnr = [[-2.372,1.475],[-2.138,1.475],[-2.005,1.276],[-1.888,1.043],[-1.805,0.777],[-1.722,0.379],[-1.672,-0.053],[-1.605,-0.651],[-1.555,-0.983],[-1.522,-0.551],[-1.472,-0.286],[-1.438,-0.551],[-1.405,-1.216],[-1.372,-2.213],[-1.338,-1.548],[-1.305,-0.219],[-1.255,0.445],[-1.188,0.91],[-1.105,1.176],[-1.038,1.243],[-0.972,1.143],[-0.888,1.043],[-0.805,0.977],[-0.738,1.409],[-0.672,1.874],[-0.605,2.106],[-0.505,2.173],[-0.438,2.439],[-0.372,2.771],[-0.305,2.804],[-0.222,2.837],[-0.138,3.037],[-0.055,3.203],[0.028,3.269],[0.112,3.169],[0.195,3.203],[0.295,3.169],[0.395,3.369],[0.495,3.601],[0.595,3.767],[0.662,3.701],[0.762,3.535],[0.862,3.203],[0.962,2.771],[1.062,2.173],[1.162,1.841],[1.262,1.674],[1.362,1.508],[1.462,1.342],[1.562,1.176],[1.662,0.977],[1.728,1.11],[1.795,1.276],[1.862,1.11],[1.928,0.777],[1.995,0.445]];
const hnnSnrHead = [[-2.52,1.575],[-2.354,1.575]];
const hnnSnr = [[-2.354,1.275],[-2.238,1.275],[-2.154,1.375],[-2.071,1.225],[-1.988,1.075],[-1.905,1.125],[-1.822,0.925],[-1.739,0.8],[-1.656,0.975],[-1.573,0.8],[-1.49,0.6],[-1.407,0.8],[-1.357,0.975],[-1.291,0.675],[-1.241,0.425],[-1.158,0.0],[-1.108,-0.325],[-1.058,-0.125],[-1.008,-0.525],[-0.958,0.025],[-0.909,-0.325],[-0.859,-0.075],[-0.792,0.55],[-0.709,0.925],[-0.626,1.425],[-0.543,2.05],[-0.443,2.175],[-0.36,2.175],[-0.277,2.375],[-0.194,2.475],[-0.111,2.625],[-0.028,2.725],[0.088,2.925],[0.204,2.975],[0.337,3.3],[0.503,3.725],[0.62,3.925],[0.703,3.675],[0.786,3.175],[0.886,2.925],[1.002,2.8],[1.118,2.625],[1.218,2.05],[1.334,1.675],[1.467,1.425],[1.584,1.05],[1.717,0.85],[1.8,1.05],[1.866,1.35],[1.966,0.925]];
const hnzSnrHead = [[-2.515,0.157],[-2.382,0.157]];
const hnzSnr = [[-2.349,0.588],[-2.133,0.588],[-2.05,0.549],[-1.983,0.196],[-1.917,0.235],[-1.851,0.039],[-1.784,0.098],[-1.734,0.0],[-1.651,-0.294],[-1.585,-0.588],[-1.519,-0.196],[-1.452,0.235],[-1.386,0.49],[-1.32,0.784],[-1.237,0.922],[-1.154,0.863],[-1.087,0.588],[-1.021,0.235],[-0.954,0.137],[-0.888,0.137],[-0.805,0.235],[-0.739,0.392],[-0.689,0.549],[-0.606,0.745],[-0.523,1.176],[-0.44,1.569],[-0.357,1.863],[-0.274,2.02],[-0.191,2.157],[-0.108,2.294],[-0.025,2.353],[0.058,2.196],[0.141,2.392],[0.224,2.51],[0.307,2.353],[0.39,2.255],[0.473,2.745],[0.556,2.882],[0.606,3.039],[0.672,2.706],[0.739,2.824],[0.805,2.451],[0.888,2.353],[0.971,2.255],[1.054,2.392],[1.137,2.412],[1.237,2.451],[1.336,2.157],[1.436,1.569],[1.535,1.078],[1.635,0.824],[1.734,0.745],[1.817,0.647],[1.9,0.392],[2.0,0.0]];

// axis limits
const accYDomain = [[-59.5,79.7],[-101.5,130.5],[-30,25]];
const velYDomain = [[-2.48,2.6],[-4,4],[-0.8,0.8]];
const dispYDomain = [[-0.204,0.391],[-0.23,0.1177],[-0.064,0.062]];
const accYTicks = [[-60,-40,-20,0,20,40,60],[-100,-50,0,50,100],[-30,-20,-10,0,10,20]];
const velYTicks = [[-2,-1,0,1,2],[-4,-2,0,2,4],[-0.75,-0.5,-0.25,0,0.25,0.5,0.75]];
const dispYTicks = [[-0.2,-0.1,0,0.1,0.2,0.3],[-0.2,-0.15,-0.1,-0.05,0,0.05,0.1],[-0.06,-0.04,-0.02,0,0.02,0.04,0.06]];
const accFmt = ["d","d","d"], velFmt = ["d","d",".2f"], dispFmt = [".1f",".2f",".2f"];
const specYLogDomain = [[-6.574,1.575],[-6.98,1.72],[-6.52,1.195]];
const specYTickExp = [[1,-1,-3,-5],[0,-2,-4,-6],[1,-1,-3,-5]];
const snrYLogDomain = [[-2.56,4.03],[-0.85,4.12],[-0.78,3.1]];
const snrYTickExp = [[-2,-1,0,1,2,3,4],[0,1,2,3,4],[0,1,2,3]];
const freqLogDomain = [-2.725, 2.225];
const freqTickExp = [-2,-1,0,1,2];

// ---------------- LAYOUT ----------------
const colX = [[94.5,391.5],[465.7,763],[837.5,1135]];
const rowY = [[29.5,128.5],[171.5,270],[311.5,410],[452,650],[692,890]];
const svg = d3.select("#c");
const MINUS = "\u2212";
const fixMinus = s => s.replace(/-/g, MINUS);
let clipN = 0;

function frame(x0,y0,x1,y1){
  const id = "clip"+(clipN++);
  svg.append("clipPath").attr("id",id).append("rect").attr("x",x0).attr("y",y0).attr("width",x1-x0).attr("height",y1-y0);
  const g = svg.append("g");
  const inner = g.append("g").attr("clip-path",`url(#${id})`);
  return {g, inner};
}
function box(g,x0,y0,x1,y1){
  g.append("rect").attr("x",x0).attr("y",y0).attr("width",x1-x0).attr("height",y1-y0).attr("fill","none").attr("stroke","#000").attr("stroke-width",0.9);
}
function styleAxis(a, fs){
  a.select(".domain").remove();
  a.selectAll(".tick line").attr("stroke","#000").attr("stroke-width",0.8);
  a.selectAll("text").attr("font-family","DejaVu Sans, sans-serif").attr("font-size",fs).attr("fill","#000");
  a.attr("font-family",null).attr("font-size",null);
}
function supLabels(a, fs){
  a.selectAll(".tick text").each(function(d){
    const e = Math.round(Math.log10(d));
    const t = d3.select(this); t.text(null);
    t.append("tspan").text("10");
    t.append("tspan").attr("dy","-0.55em").attr("font-size",fs*0.7).text(e<0?MINUS+(-e):String(e));
  });
}
function minorLogTicks(lo, hi){
  const out=[];
  for(let d=Math.floor(lo)-1; d<=Math.ceil(hi); d++) for(let k=2;k<=9;k++){const v=k*Math.pow(10,d); if(Math.log10(v)>lo && Math.log10(v)<hi) out.push(v);}
  return out;
}
const P = a => a.map(d=>[Math.pow(10,d[0]),Math.pow(10,d[1])]);

// ---------- time-series panels ----------
const traces = [[accHNE,velHNE,dispHNE],[accHNN,velHNN,dispHNN],[accHNZ,velHNZ,dispHNZ]];
const doms = [accYDomain, velYDomain, dispYDomain];
const ticksY = [accYTicks, velYTicks, dispYTicks];
const fmts = [accFmt, velFmt, dispFmt];
const texts = [pgaText, pgvText, pgdText];
const boxes = [null, velBoxHalf, dispBoxHalf];
const ylabels = ["Acceleration (cm/s/s)","Velocity (cm/s)","Displacement (cm)"];
const ylabelX = [58, 62, 55];

for(let c=0;c<3;c++){
  const [x0,x1]=colX[c];
  svg.append("text").attr("x",(x0+x1)/2).attr("y",22).attr("text-anchor","middle").attr("font-size",12).text(titles[c]);
  for(let r=0;r<3;r++){
    const [y0,y1]=rowY[r];
    const x = d3.scaleLinear().domain([-1.365,28.665]).range([x0,x1]);
    const y = d3.scaleLinear().domain(doms[r][c]).range([y1,y0]);
    const {g, inner} = frame(x0,y0,x1,y1);
    if(boxes[r]){
      const h = boxes[r][c];
      inner.append("rect").attr("x",x(noiseWindow[0])).attr("width",x(noiseWindow[1])-x(noiseWindow[0]))
        .attr("y",y(h)).attr("height",y(-h)-y(h)).attr("fill","#40f58c");
    }
    inner.append("path").datum(traces[c][r]).attr("fill","none").attr("stroke","#000").attr("stroke-width",0.6)
      .attr("stroke-linejoin","round").attr("d",d3.line().x(d=>x(d[0])).y(d=>y(d[1])));
    inner.append("line").attr("x1",x(pickTime)).attr("x2",x(pickTime)).attr("y1",y0).attr("y2",y1)
      .attr("stroke","#ff0000").attr("stroke-width",1.8).attr("stroke-dasharray","5.5,2.4");
    box(g,x0,y0,x1,y1);
    g.append("text").attr("x",x0+0.95*(x1-x0)).attr("y",y0+0.05*(y1-y0)).attr("dy","0.78em").attr("text-anchor","end")
      .attr("font-size",11).attr("fill","#808080").text(texts[r][c]);
    const ax = g.append("g").attr("transform",`translate(0,${y1})`).call(d3.axisBottom(x).tickValues(timeTicks).tickSize(3.5).tickPadding(5).tickFormat(d3.format("d")));
    styleAxis(ax,5);
    const ay = g.append("g").attr("transform",`translate(${x0},0)`).call(d3.axisLeft(y).tickValues(ticksY[r][c]).tickSize(3.5).tickPadding(4).tickFormat(v=>fixMinus(d3.format(fmts[r][c])(v))));
    styleAxis(ay,5);
    if(c===0){
      svg.append("text").attr("transform",`translate(${ylabelX[r]},${(y0+y1)/2}) rotate(-90)`).attr("text-anchor","middle").attr("dy","0.35em").attr("font-size",10).text(ylabels[r]);
    }
    if(r===2){
      svg.append("text").attr("x",(x0+x1)/2).attr("y",440).attr("text-anchor","middle").attr("font-size",10).text("Time (s)");
    }
  }
}

// ---------- spectra + SNR ----------
const spec = [
  {sigLine:hneSigRawLine,sigBand:hneSigRawBand,sigSpikes:hneSigRawSpikes,noiseLine:hneNoiseRawLine,noiseBand:hneNoiseRawBand,noiseSpikes:hneNoiseRawSpikes,sigHead:hneSigSmoothHead,sig:hneSigSmooth,noiseHead:hneNoiseSmoothHead,noise:hneNoiseSmooth,brune:hneBrune},
  {sigLine:hnnSigRawLine,sigBand:hnnSigRawBand,sigSpikes:hnnSigRawSpikes,noiseLine:hnnNoiseRawLine,noiseBand:hnnNoiseRawBand,noiseSpikes:hnnNoiseRawSpikes,sigHead:hnnSigSmoothHead,sig:hnnSigSmooth,noiseHead:hnnNoiseSmoothHead,noise:hnnNoiseSmooth,brune:hnnBrune},
  {sigLine:hnzSigRawLine,sigBand:hnzSigRawBand,sigSpikes:hnzSigRawSpikes,noiseLine:hnzNoiseRawLine,noiseBand:hnzNoiseRawBand,noiseSpikes:hnzNoiseRawSpikes,sigHead:hnzSigSmoothHead,sig:hnzSigSmooth,noiseHead:hnzNoiseSmoothHead,noise:hnzNoiseSmooth,brune:hnzBrune}
];
const snrs = [[hneSnrHead,hneSnr],[hnnSnrHead,hnnSnr],[hnzSnrHead,hnzSnr]];

for(let c=0;c<3;c++){
  const [x0,x1]=colX[c];
  const x = d3.scaleLog().domain(freqLogDomain.map(v=>Math.pow(10,v))).range([x0,x1]);
  {
    const [y0,y1]=rowY[3];
    const y = d3.scaleLog().domain(specYLogDomain[c].map(v=>Math.pow(10,v))).range([y1,y0]);
    const {g, inner} = frame(x0,y0,x1,y1);
    const line = d3.line().x(d=>x(d[0])).y(d=>y(d[1]));
    const area = d3.area().x(d=>x(Math.pow(10,d[0]))).y0(d=>y(Math.pow(10,d[2]))).y1(d=>y(Math.pow(10,d[1])));
    const spikes = (sel, data, col) => sel.selectAll(null).data(data).join("line")
      .attr("x1",d=>x(Math.pow(10,d[0]))).attr("x2",d=>x(Math.pow(10,d[0])))
      .attr("y1",d=>y(Math.pow(10,d[1]))).attr("y2",d=>y(Math.pow(10,d[2])))
      .attr("stroke",col).attr("stroke-width",1.3);
    const s = spec[c];
    inner.append("path").datum(P(s.sigLine)).attr("fill","none").attr("stroke","#add8e6").attr("stroke-width",1.5).attr("d",line);
    inner.append("path").datum(s.sigBand).attr("fill","#add8e6").attr("stroke","#add8e6").attr("stroke-width",1).attr("d",area);
    spikes(inner.append("g"), s.sigSpikes, "#add8e6");
    inner.append("path").datum(P(s.noiseLine)).attr("fill","none").attr("stroke","#fa8072").attr("stroke-width",1.5).attr("d",line);
    inner.append("path").datum(s.noiseBand).attr("fill","#fa8072").attr("stroke","#fa8072").attr("stroke-width",1).attr("d",area);
    spikes(inner.append("g"), s.noiseSpikes, "#fa8072");
    [[s.sigHead,"#0000ff"],[s.sig,"#0000ff"],[s.noiseHead,"#ff0000"],[s.noise,"#ff0000"]].forEach(([d,col])=>{
      if(d.length) inner.append("path").datum(P(d)).attr("fill","none").attr("stroke",col).attr("stroke-width",1.6).attr("stroke-linejoin","round").attr("d",line.curve(d3.curveMonotoneX));
    });
    inner.append("path").datum(P(s.brune)).attr("fill","none").attr("stroke","#000").attr("stroke-width",1.6).attr("stroke-dasharray","5.5,2.4").attr("d",line.curve(d3.curveMonotoneX));
    inner.append("line").attr("x1",x(cornerFreq[c])).attr("x2",x(cornerFreq[c])).attr("y1",y0).attr("y2",y1).attr("stroke","#000").attr("stroke-width",1.6).attr("stroke-dasharray","5.5,2.4");
    box(g,x0,y0,x1,y1);
    const ax = g.append("g").attr("transform",`translate(0,${y1})`).call(d3.axisBottom(x).tickValues(freqTickExp.map(e=>Math.pow(10,e))).tickSize(3.5).tickPadding(11));
    styleAxis(ax,10); supLabels(ax,10);
    const axm = g.append("g").attr("transform",`translate(0,${y1})`).call(d3.axisBottom(x).tickValues(minorLogTicks(...freqLogDomain)).tickSize(2).tickFormat(()=>""));
    styleAxis(axm,10);
    const ay = g.append("g").attr("transform",`translate(${x0},0)`).call(d3.axisLeft(y).tickValues(specYTickExp[c].map(e=>Math.pow(10,e))).tickSize(3.5).tickPadding(2.5));
    styleAxis(ay,10); supLabels(ay,10);
    svg.append("text").attr("x",(x0+x1)/2).attr("y",690).attr("text-anchor","middle").attr("font-size",10).text("Frequency (Hz)");
    if(c===0) svg.append("text").attr("transform",`translate(45,${(y0+y1)/2}) rotate(-90)`).attr("text-anchor","middle").attr("dy","0.35em").attr("font-size",10).text("Amplitude (cm/s)");
  }
  {
    const [y0,y1]=rowY[4];
    const y = d3.scaleLog().domain(snrYLogDomain[c].map(v=>Math.pow(10,v))).range([y1,y0]);
    const {g, inner} = frame(x0,y0,x1,y1);
    const line = d3.line().x(d=>x(d[0])).y(d=>y(d[1])).curve(d3.curveMonotoneX);
    inner.append("line").attr("x1",x0).attr("x2",x1).attr("y1",y(snrThreshold)).attr("y2",y(snrThreshold)).attr("stroke","#bfbfbf").attr("stroke-width",2);
    snrGrayFreqs.forEach(f=>inner.append("line").attr("x1",x(f)).attr("x2",x(f)).attr("y1",y0).attr("y2",y1).attr("stroke","#bfbfbf").attr("stroke-width",2));
    snrs[c].forEach(d=>inner.append("path").datum(P(d)).attr("fill","none").attr("stroke","#1f77b4").attr("stroke-width",1.6).attr("stroke-linejoin","round").attr("d",line));
    snrBandFreqs[c].forEach(f=>inner.append("line").attr("x1",x(f)).attr("x2",x(f)).attr("y1",y0).attr("y2",y1).attr("stroke","#000").attr("stroke-width",1.6).attr("stroke-dasharray","5.5,2.4"));
    box(g,x0,y0,x1,y1);
    const ax = g.append("g").attr("transform",`translate(0,${y1})`).call(d3.axisBottom(x).tickValues(freqTickExp.map(e=>Math.pow(10,e))).tickSize(3.5).tickPadding(11));
    styleAxis(ax,10); supLabels(ax,10);
    const axm = g.append("g").attr("transform",`translate(0,${y1})`).call(d3.axisBottom(x).tickValues(minorLogTicks(...freqLogDomain)).tickSize(2).tickFormat(()=>""));
    styleAxis(axm,10);
    const ay = g.append("g").attr("transform",`translate(${x0},0)`).call(d3.axisLeft(y).tickValues(snrYTickExp[c].map(e=>Math.pow(10,e))).tickSize(3.5).tickPadding(2.5));
    styleAxis(ay,10); supLabels(ay,10);
    const aym = g.append("g").attr("transform",`translate(${x0},0)`).call(d3.axisLeft(y).tickValues(minorLogTicks(...snrYLogDomain[c])).tickSize(2).tickFormat(()=>""));
    styleAxis(aym,10);
    svg.append("text").attr("x",(x0+x1)/2).attr("y",930).attr("text-anchor","middle").attr("font-size",10).text("Frequency (Hz)");
    if(c===0) svg.append("text").attr("transform",`translate(46,${(y0+y1)/2}) rotate(-90)`).attr("text-anchor","middle").attr("dy","0.35em").attr("font-size",10).text("SNR");
  }
}
</script></body></html>
